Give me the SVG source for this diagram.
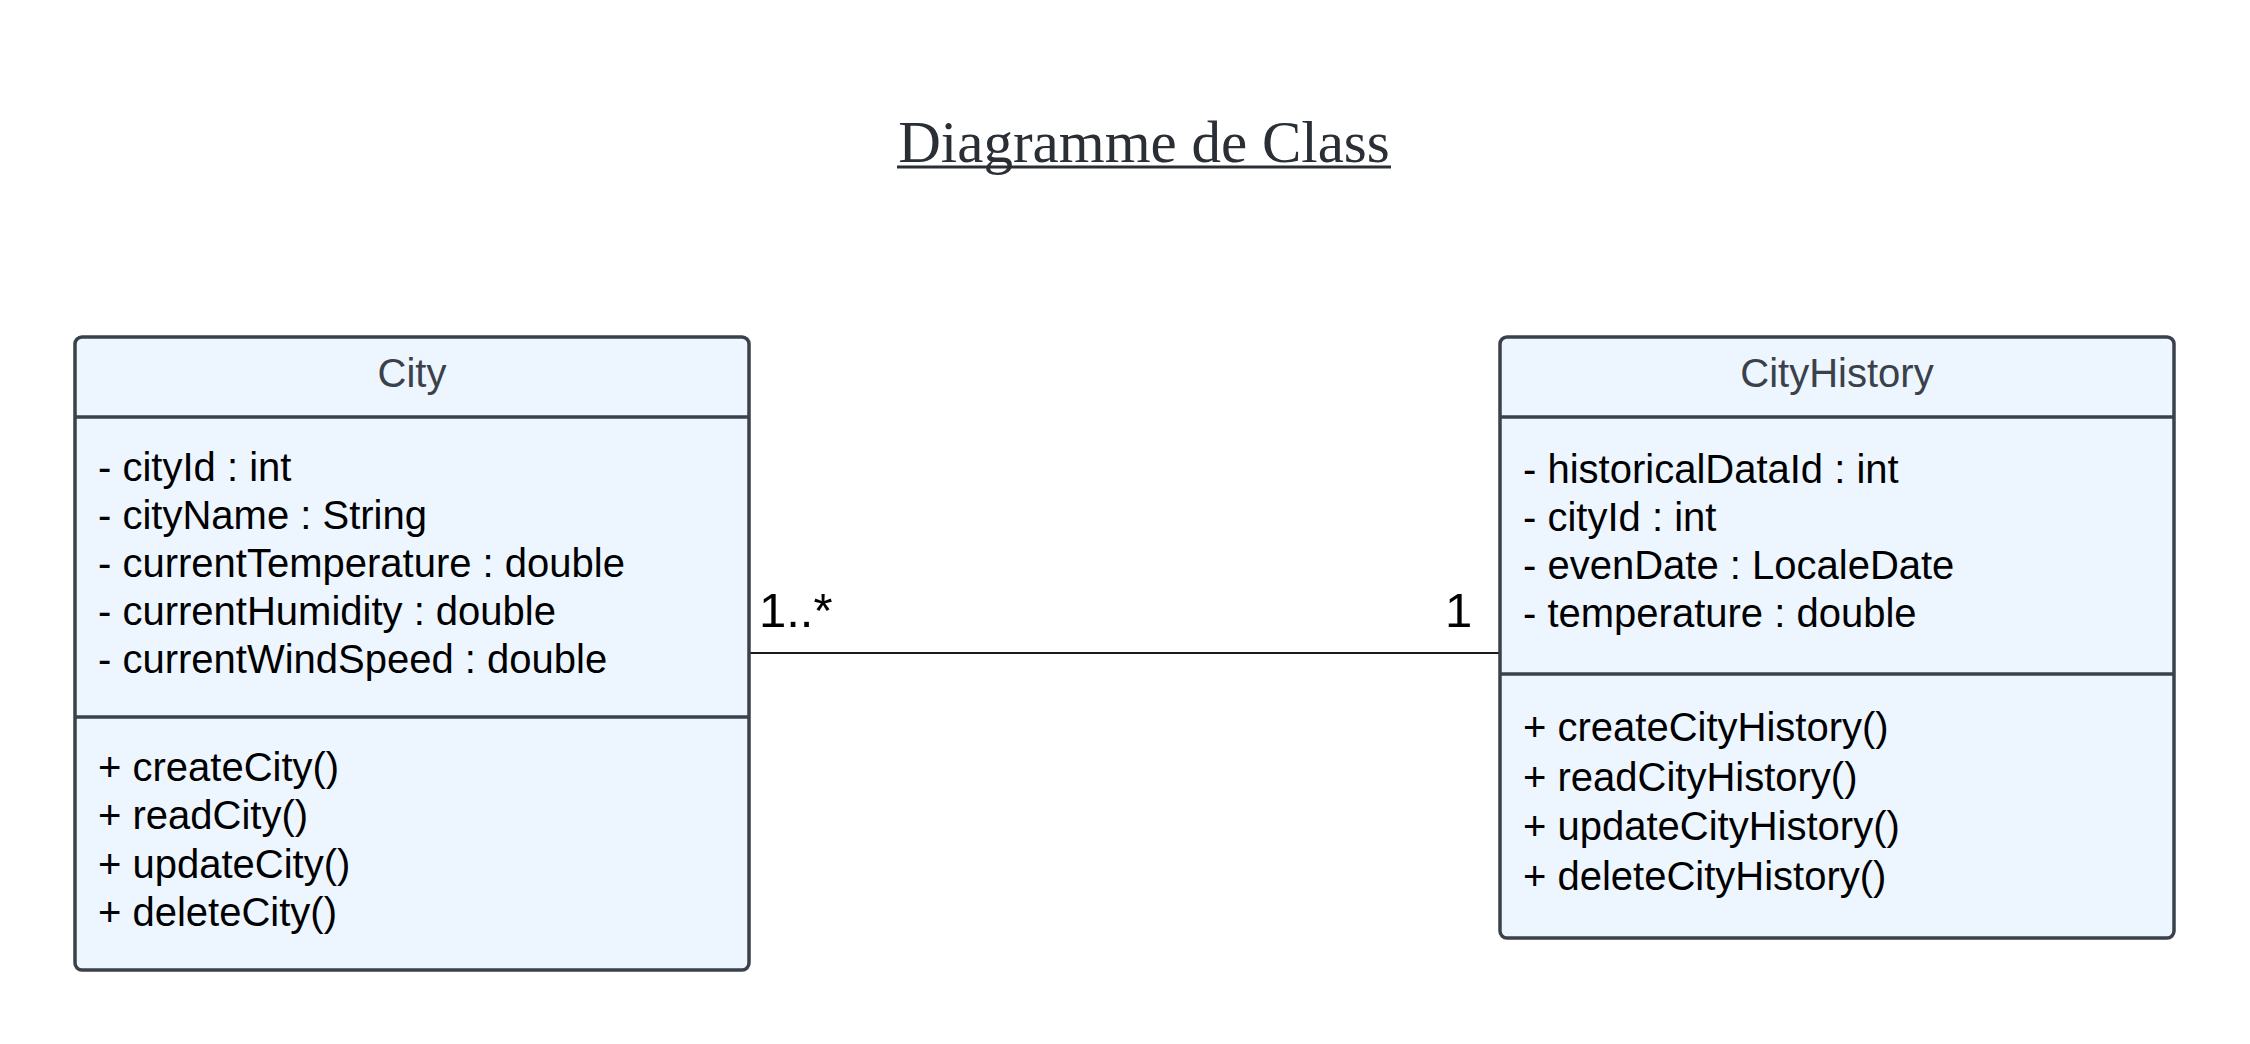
<svg xmlns="http://www.w3.org/2000/svg" width="2250" height="1044" viewBox="0 0 2250 1044">
<style>
.box{fill:#edf5ff;stroke:#3a414a;stroke-width:3.5}
.div{stroke:#3a414a;stroke-width:3.5}
.hdr{font-family:"Liberation Sans",Arial,sans-serif;font-size:40px;fill:#3a414a;text-anchor:middle}
.mem{font-family:"Liberation Sans",Arial,sans-serif;font-size:40px;fill:#000}
.mult{font-family:"Liberation Sans",Arial,sans-serif;font-size:49px;fill:#000}
.title{font-family:"Liberation Serif","Times New Roman",serif;font-size:59px;fill:#2a2f36;text-anchor:middle}
</style>
<rect width="2250" height="1044" fill="#ffffff"/>
<g id="title">
<text class="title" x="1144" y="162">Diagramme de Class</text>
<line x1="897" y1="167" x2="1391" y2="167" stroke="#2a2f36" stroke-width="3"/>
</g>
<g id="connectors">
<line x1="749" y1="653" x2="1500" y2="653" stroke="#1a1a1a" stroke-width="2"/>
<text class="mult" x="759" y="627">1..*</text>
<text class="mult" x="1445" y="627">1</text>
</g>
<g id="city">
<rect class="box" x="75" y="337" width="674" height="633" rx="7"/>
<line class="div" x1="75" y1="417" x2="749" y2="417"/>
<line class="div" x1="75" y1="717" x2="749" y2="717"/>
<text class="hdr" x="412" y="387">City</text>
<text class="mem" x="98" y="481">- cityId : int</text>
<text class="mem" x="98" y="529">- cityName : String</text>
<text class="mem" x="98" y="577">- currentTemperature : double</text>
<text class="mem" x="98" y="625">- currentHumidity : double</text>
<text class="mem" x="98" y="673">- currentWindSpeed : double</text>
<text class="mem" x="98" y="781">+ createCity()</text>
<text class="mem" x="98" y="829">+ readCity()</text>
<text class="mem" x="98" y="878">+ updateCity()</text>
<text class="mem" x="98" y="926">+ deleteCity()</text>
</g>
<g id="cityhistory">
<rect class="box" x="1500" y="337" width="674" height="601" rx="7"/>
<line class="div" x1="1500" y1="417" x2="2174" y2="417"/>
<line class="div" x1="1500" y1="674" x2="2174" y2="674"/>
<text class="hdr" x="1837" y="387">CityHistory</text>
<text class="mem" x="1523" y="483">- historicalDataId : int</text>
<text class="mem" x="1523" y="531">- cityId : int</text>
<text class="mem" x="1523" y="579">- evenDate : LocaleDate</text>
<text class="mem" x="1523" y="627">- temperature : double</text>
<text class="mem" x="1523" y="741">+ createCityHistory()</text>
<text class="mem" x="1523" y="791">+ readCityHistory()</text>
<text class="mem" x="1523" y="840">+ updateCityHistory()</text>
<text class="mem" x="1523" y="890">+ deleteCityHistory()</text>
</g>
</svg>
